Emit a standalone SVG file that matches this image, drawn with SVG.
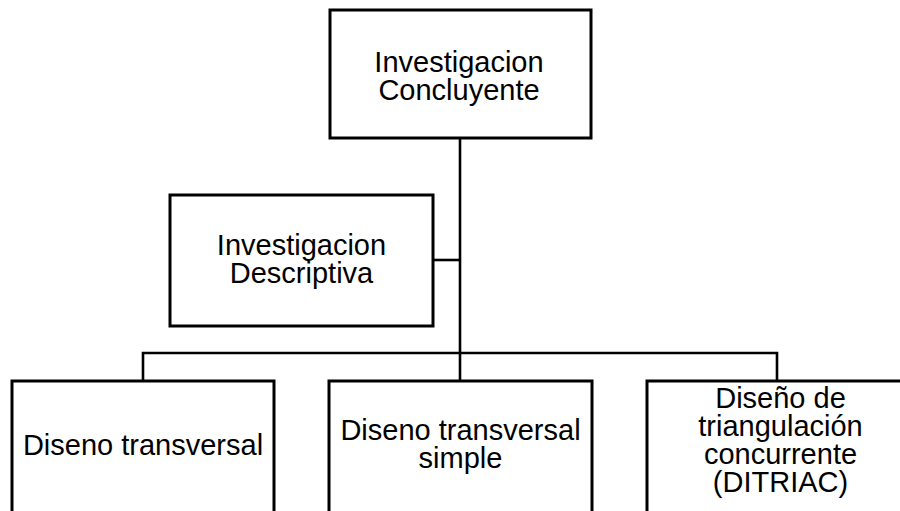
<svg xmlns="http://www.w3.org/2000/svg" width="900" height="511" viewBox="0 0 900 511">
<style>
.box{fill:#fff;stroke:#000;stroke-width:3}
.t{font-family:"Liberation Sans",Arial,sans-serif;font-size:29px;fill:#000;text-anchor:middle}
.c{fill:none;stroke:#000;stroke-width:2.6}
</style>
<rect width="900" height="511" fill="#fff"/>
<g id="connectors">
<path class="c" d="M460 138 V353"/>
<path class="c" d="M433 260 H460"/>
<path class="c" d="M143 381 V353 H777 V381"/>
<path class="c" d="M460 353 V381"/>
</g>
<g id="n-concluyente">
<rect class="box" x="330" y="10" width="261" height="128"/>
<text class="t" x="459" y="72">Investigacion</text>
<text class="t" x="459" y="100">Concluyente</text>
</g>
<g id="n-descriptiva">
<rect class="box" x="170" y="195" width="263" height="131"/>
<text class="t" x="301.5" y="255">Investigacion</text>
<text class="t" x="301.5" y="283">Descriptiva</text>
</g>
<g id="n-transversal">
<rect class="box" x="12" y="381" width="262" height="150"/>
<text class="t" x="143" y="455">Diseno transversal</text>
</g>
<g id="n-simple">
<rect class="box" x="329" y="381" width="263" height="150"/>
<text class="t" x="460.5" y="440">Diseno transversal</text>
<text class="t" x="460.5" y="468">simple</text>
</g>
<g id="n-ditriac">
<rect class="box" x="647" y="381" width="267" height="150"/>
<text class="t" x="780.5" y="408">Diseño de</text>
<text class="t" x="780.5" y="436">triangulación</text>
<text class="t" x="780.5" y="464">concurrente</text>
<text class="t" x="780.5" y="492">(DITRIAC)</text>
</g>
</svg>
